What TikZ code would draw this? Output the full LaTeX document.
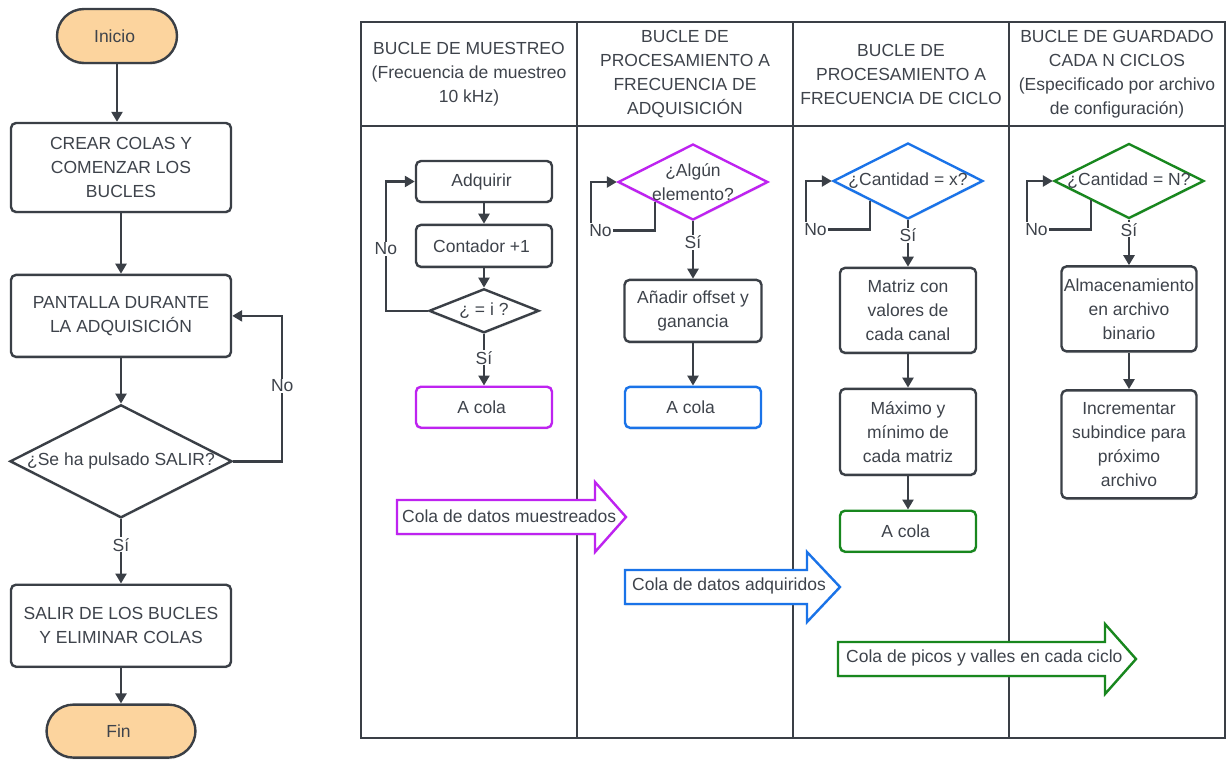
\documentclass[tikz,border=0pt]{standalone}
\usepackage{fontspec}
\setmainfont{Liberation Sans}
\usepackage{tikz}
\usetikzlibrary{positioning, shapes.geometric, arrows.meta, shadows}

\definecolor{edge}{RGB}{58,63,70}
\definecolor{txt}{RGB}{62,67,75}
\definecolor{termfill}{RGB}{252,212,158}
\definecolor{qmag}{RGB}{190,35,240}
\definecolor{qblue}{RGB}{26,115,232}
\definecolor{qgreen}{RGB}{24,135,30}

% outline of a queue arrow: colour, tail x, axis y, head x, tip x
\newcommand{\flechacola}[5]{%
  \draw [draw=#1, line width=2.4pt, fill=white, line join=miter, soft]
	(#2,#3-17) -- (#4,#3-17) -- (#4,#3-35) -- (#5,#3)
	-- (#4,#3+35) -- (#4,#3+17) -- (#2,#3+17) -- cycle;}

\begin{document}
\begin{tikzpicture}[x=1pt, y=-1pt, font=\fontsize{17.5}{24}\selectfont, text=txt,
	soft/.style = { drop shadow={opacity=0.12, shadow xshift=0pt,
	shadow yshift=-2pt} },
	box/.style = { rectangle, rounded corners=5pt, draw=edge, line width=2.4pt,
	fill=white, align=center, inner xsep=2pt, minimum width=136pt,
	minimum height=41pt, soft },
	term/.style = { box, rounded corners=27pt, fill=termfill },
	dia/.style = { diamond, draw=edge, line width=2.4pt, fill=white,
	inner sep=0pt, soft },
	cell/.style = { rectangle, draw=edge, line width=2.4pt, align=center,
	inner xsep=2pt, outer sep=0pt, minimum width=216pt },
	arr/.style = { draw=edge, line width=2.4pt,
	-{Triangle[length=10pt, width=11pt]} },
	lbl/.style = { fill=white, inner sep=1pt },
	qtext/.style = { anchor=west, inner sep=0pt } ]

  \useasboundingbox (0,0) rectangle (1228,760);

  % table of the four loops
  \node [name=hmues, cell, minimum height=104pt] at (469,74)
	{ BUCLE DE MUESTREO\\(Frecuencia de muestreo\\10 kHz) };
  \node [name=hadq, cell, minimum height=104pt, right=0pt of hmues]
	{ BUCLE DE\\PROCESAMIENTO A\\FRECUENCIA DE\\ADQUISICIÓN };
  \node [name=hciclo, cell, minimum height=104pt, right=0pt of hadq]
	{ BUCLE DE\\PROCESAMIENTO A\\FRECUENCIA DE CICLO };
  \node [name=hguard, cell, minimum height=104pt, right=0pt of hciclo]
	{ BUCLE DE GUARDADO\\CADA N CICLOS\\(Especificado por archivo\\de configuración) };
  \foreach \h/\b in {hmues/bmues, hadq/badq, hciclo/bciclo, hguard/bguard}
	\node [name=\b, cell, minimum height=612pt, below=0pt of \h] {};

  % main program
  \node [name=inicio, term, minimum width=120pt, minimum height=54pt]
	at (117,36) { Inicio };
  \node [name=crear, box, minimum width=220pt, minimum height=89pt]
	at (121,167.5) { CREAR COLAS Y\\COMENZAR LOS\\BUCLES };
  \node [name=pantalla, box, minimum width=220pt, minimum height=82pt,
	below=60.5pt of crear] { PANTALLA DURANTE\\LA ADQUISICIÓN };
  \node [name=qsalir, dia, minimum width=222pt, minimum height=113pt,
	below=45.5pt of pantalla, label={center:{¿Se ha pulsado SALIR?}}] {};
  \node [name=salir, box, minimum width=220pt, minimum height=82pt,
	below=64.5pt of qsalir] { SALIR DE LOS BUCLES\\Y ELIMINAR COLAS };
  \node [name=fin, term, minimum width=149pt, minimum height=53pt,
	below=35.5pt of salir] { Fin };

  \draw [arr] (inicio) -- (inicio |- crear.north);
  \draw [arr] (crear) -- (pantalla);
  \draw [arr] (pantalla) -- (qsalir);
  \draw [arr] (qsalir) -- node [lbl, pos=0.4] { Sí } (salir);
  \draw [arr] (salir) -- (fin);
  \draw [arr] (qsalir.east) -- ++(49,0)
	|- node [lbl, pos=0.26] { No } (pantalla.east);

  % sampling loop
  \node [name=adquirir, box] at (484,181.5) { Adquirir };
  \node [name=contador, box, minimum height=42pt, below=20.5pt of adquirir]
	{ Contador +1 };
  \node [name=qi, dia, minimum width=110pt, minimum height=44pt,
	below=19.5pt of contador, label={center:{¿ = i ?}}] {};
  \node [name=colamues, box, draw=qmag, below=51.5pt of qi] { A cola };
  \draw [arr] (adquirir) -- (contador);
  \draw [arr] (contador) -- (qi);
  \draw [arr] (qi) -- node [lbl, pos=0.46] { Sí } (colamues);
  \draw [arr] (qi.west) -- ++(-42,0)
	|- node [lbl, pos=0.24] { No } (adquirir.west);

  % processing at acquisition rate
  \node [name=qalg, dia, draw=qmag, minimum width=150pt, minimum height=76pt,
	label={[align=center]center:{¿Algún\\elemento?}}] at (693,182) {};
  \node [name=anadir, box, minimum width=137pt, minimum height=62pt,
	below=57.5pt of qalg] { Añadir offset y\\ganancia };
  \node [name=colaadq, box, draw=qblue, below=42.5pt of anadir] { A cola };
  \draw [arr] (qalg) -- node [lbl, pos=0.37] { Sí } (anadir);
  \draw [arr] (anadir) -- (colaadq);

  % processing at cycle rate
  \node [name=qx, dia, draw=qblue, minimum width=150pt, minimum height=76pt,
	label={center:{¿Cantidad = x?}}] at (908,181) {};
  \node [name=matriz, box, minimum height=85pt, below=46.5pt of qx]
	{ Matriz con\\valores de\\cada canal };
  \node [name=maximo, box, minimum height=86pt, below=33.5pt of matriz]
	{ Máximo y\\mínimo de\\cada matriz };
  \node [name=colaciclo, box, draw=qgreen, below=33.5pt of maximo] { A cola };
  \draw [arr] (qx) -- node [lbl, pos=0.33] { Sí } (matriz);
  \draw [arr] (matriz) -- (maximo);
  \draw [arr] (maximo) -- (colaciclo);

  % saving loop
  \node [name=qn, dia, draw=qgreen, minimum width=150pt, minimum height=75pt,
	label={center:{¿Cantidad = N?}}] at (1129,181) {};
  \node [name=almac, box, minimum width=135pt, minimum height=85pt,
	below=45.5pt of qn] { Almacenamiento\\en archivo\\binario };
  \node [name=incr, box, minimum width=135pt, minimum height=108pt,
	below=36.5pt of almac] { Incrementar\\subindice para\\próximo\\archivo };
  \draw [arr] (qn) -- node [lbl, pos=0.22] { Sí } (almac);
  \draw [arr] (almac) -- (incr);

  % waiting branches
  \foreach \q in {qalg, qx, qn}
	\draw [arr] (\q.south west) -- ++(0,29) -- node [lbl, pos=0.85] { No } ++(-64,0)
	|- (\q.west);

  % queues between loops
  \flechacola{qmag}{397}{517}{595}{626}
  \node [name=cmues, qtext] at (402,516) { Cola de datos muestreados };
  \flechacola{qblue}{625}{587}{807}{840}
  \node [name=cadq, qtext] at (632,586) { Cola de datos adquiridos };
  \flechacola{qgreen}{838}{659}{1105}{1136}
  \node [name=cciclo, qtext] at (846,658) { Cola de picos y valles en cada ciclo };
\end{tikzpicture}
\end{document}
